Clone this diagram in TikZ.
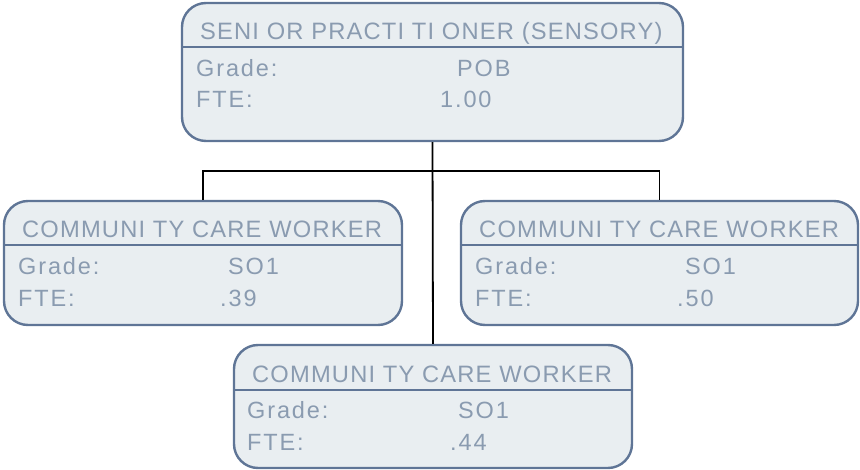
\documentclass[tikz,border=0pt]{standalone}
\usepackage{fontspec}
\setmainfont{Liberation Sans}[LetterSpace=5]
\newfontfamily\bodyfont{Liberation Sans}[LetterSpace=8]
\definecolor{bordc}{HTML}{5F7596}
\definecolor{fillc}{HTML}{E9EEF1}
\definecolor{txtc}{HTML}{8A9BB0}
\begin{document}
\begin{tikzpicture}[x=1pt,y=-1pt,
  card/.style={draw=bordc,fill=fillc,line width=2.4pt,rounded corners=24pt,inner sep=0pt},
  hdr/.style={anchor=base west,inner sep=0pt,text=txtc,font=\fontsize{23.7}{26}\selectfont},
  lbl/.style={anchor=base west,inner sep=0pt,text=txtc,font=\bodyfont\fontsize{23.5}{26}\selectfont},
  sep/.style={draw=bordc,line width=2pt},
  conn/.style={draw=black,line width=1.8pt}]
\useasboundingbox (0,0) rectangle (860,470);
% boxes
\node[card,minimum width=501pt,minimum height=138pt] (top) at (432.5,72) {};
\node[card,minimum width=398pt,minimum height=124pt] (left) at (203,263) {};
\node[card,minimum width=397pt,minimum height=124pt] (right) at (659.5,263) {};
\node[card,minimum width=398pt,minimum height=123pt] (bot) at (433,406.5) {};
% connectors
\coordinate (j) at (432,171);
\draw[conn] (top.south) -- (bot.north);
\draw[conn] (left.north) |- (j) -| (right.north);
% separators
\draw[sep] (top.west |- 0,47) -- (top.east |- 0,47);
\draw[sep] (left.west |- 0,245) -- (left.east |- 0,245);
\draw[sep] (right.west |- 0,245) -- (right.east |- 0,245);
\draw[sep] (bot.west |- 0,390) -- (bot.east |- 0,390);
% top texts
\node[hdr] (th) at (200,40) {SENI OR PRACTI TI ONER (SENSORY)};
\node[lbl] (tg) at (196,77) {Grade:};
\node[lbl] (tgv) at (457,77) {POB};
\node[lbl] (tf) at (196,108) {FTE:};
\node[lbl] (tfv) at (440,108) {1.00};
% left texts
\node[hdr] (lh) at (22,238) {COMMUNI TY CARE WORKER};
\node[lbl] (lg) at (18,275) {Grade:};
\node[lbl] (lgv) at (228,275) {SO1};
\node[lbl] (lf) at (18,307) {FTE:};
\node[lbl] (lfv) at (220,307) {.39};
% right texts
\node[hdr] (rh) at (479,238) {COMMUNI TY CARE WORKER};
\node[lbl] (rg) at (475,275) {Grade:};
\node[lbl] (rgv) at (685,275) {SO1};
\node[lbl] (rf) at (475,307) {FTE:};
\node[lbl] (rfv) at (677,307) {.50};
% bottom texts
\node[hdr] (bh) at (252,383) {COMMUNI TY CARE WORKER};
\node[lbl] (bg) at (247,418) {Grade:};
\node[lbl] (bgv) at (458,418) {SO1};
\node[lbl] (bf) at (247,450) {FTE:};
\node[lbl] (bfv) at (450,450) {.44};
\end{tikzpicture}
\end{document}
